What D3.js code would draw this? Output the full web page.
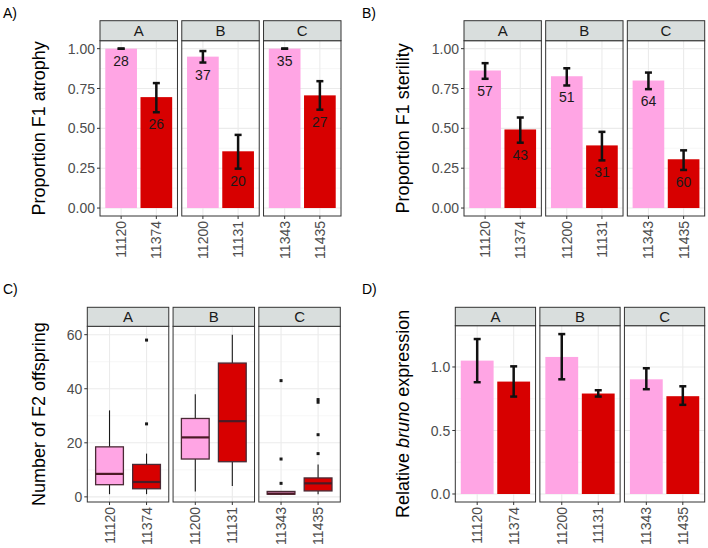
<!DOCTYPE html>
<html><head><meta charset="utf-8">
<script src="https://cdn.jsdelivr.net/npm/d3@7"></script>
<style>body{margin:0;background:#fff}svg{display:block;font-family:"Liberation Sans",Arial,Helvetica,sans-serif}</style>
</head><body><svg id="c" width="708" height="548"></svg>
<script>
// ---------- data ----------
const facets = ["A", "B", "C"];
const strains = ["11120", "11374", "11200", "11131", "11343", "11435"];
const facetOf = ["A", "A", "B", "B", "C", "C"];
const groupOf = [0, 1, 0, 1, 0, 1];

const atrophyVal = [1.00, 0.696, 0.950, 0.356, 1.00, 0.707];
const atrophyLo  = [1.00, 0.601, 0.913, 0.247, 1.00, 0.617];
const atrophyHi  = [1.00, 0.784, 0.985, 0.459, 1.00, 0.796];
const atrophyN   = [28, 26, 37, 20, 35, 27];

const sterilityVal = [0.863, 0.493, 0.827, 0.393, 0.800, 0.306];
const sterilityLo  = [0.811, 0.410, 0.769, 0.299, 0.746, 0.239];
const sterilityHi  = [0.909, 0.568, 0.877, 0.478, 0.850, 0.362];
const sterilityN   = [57, 43, 51, 31, 64, 60];

// boxplot stats: [lowerWhisker, Q1, median, Q3, upperWhisker]
const offspringStats = [
  [1, 4.5, 8.5, 18.5, 32],
  [1, 3, 5.5, 12, 16],
  [2, 14, 22, 29, 38],
  [4, 13, 28, 49.5, 60],
  [0.8, 1, 1.2, 2, 2.2],
  [1, 2.2, 5, 7, 12]
];
const offspringOutliers = [[], [27, 58], [], [], [5, 14, 43], [16, 23, 35, 36]];

const exprVal = [1.050, 0.885, 1.079, 0.791, 0.903, 0.770];
const exprLo  = [0.880, 0.767, 0.903, 0.767, 0.825, 0.702];
const exprHi  = [1.220, 1.005, 1.259, 0.817, 0.990, 0.848];

const propTicks = [0, 0.25, 0.5, 0.75, 1.0];
const propMinor = [0.125, 0.375, 0.625, 0.875];
const countTicks = [0, 20, 40, 60];
const countMinor = [10, 30, 50];
const exprTicks = [0, 0.5, 1.0];
const exprMinor = [0.25, 0.75, 1.25];

const colors = ["#ffa5e4", "#d70000"];

// ---------- drawing ----------
const svg = d3.select("#c");

function panel(o) {
  const g = svg.append("g");
  const gap = 4.3;
  const fw = (o.right - o.left - 2 * gap) / 3;
  const y = d3.scaleLinear().domain(o.yDomain).range([o.bottom, o.stripBottom]);

  g.append("text").attr("x", o.tagX).attr("y", o.tagY).attr("font-size", 14)
    .attr("fill", "#000").text(o.tag);

  const midY = (o.stripBottom + o.bottom) / 2;
  const t = g.append("text").attr("transform", `translate(${o.titleX},${midY}) rotate(-90)`)
    .attr("text-anchor", "middle").attr("dy", "0.35em").attr("font-size", 18).attr("fill", "#000");
  o.title.forEach(p => t.append("tspan").attr("font-style", p.italic ? "italic" : null).text(p.text));

  facets.forEach((f, fi) => {
    const x0 = o.left + fi * (fw + gap);
    const idx = strains.map((s, i) => i).filter(i => facetOf[i] === f);
    const x = d3.scalePoint().domain(idx.map(i => strains[i])).range([x0, x0 + fw]).padding(0.6);
    const step = x.step();
    const fg = g.append("g");

    fg.append("rect").attr("x", x0).attr("y", o.stripBottom).attr("width", fw)
      .attr("height", o.bottom - o.stripBottom).attr("fill", "#fff");
    o.yMinor.forEach(v => fg.append("line").attr("x1", x0).attr("x2", x0 + fw)
      .attr("y1", y(v)).attr("y2", y(v)).attr("stroke", "#f2f2f2").attr("stroke-width", 0.6));
    o.yTicks.forEach(v => fg.append("line").attr("x1", x0).attr("x2", x0 + fw)
      .attr("y1", y(v)).attr("y2", y(v)).attr("stroke", "#ebebeb").attr("stroke-width", 1.1));
    idx.forEach(i => fg.append("line").attr("x1", x(strains[i])).attr("x2", x(strains[i]))
      .attr("y1", o.stripBottom).attr("y2", o.bottom).attr("stroke", "#ebebeb").attr("stroke-width", 1.1));

    o.draw(fg, idx, x, y, step);

    fg.append("rect").attr("x", x0).attr("y", o.stripBottom).attr("width", fw)
      .attr("height", o.bottom - o.stripBottom).attr("fill", "none").attr("stroke", "#333").attr("stroke-width", 1);
    fg.append("rect").attr("x", x0).attr("y", o.stripTop).attr("width", fw)
      .attr("height", o.stripBottom - o.stripTop).attr("fill", "#d9dedd").attr("stroke", "#333").attr("stroke-width", 1);
    fg.append("text").attr("x", x0 + fw / 2).attr("y", (o.stripTop + o.stripBottom) / 2)
      .attr("dy", "0.36em").attr("text-anchor", "middle").attr("font-size", 15).attr("fill", "#1a1a1a").text(f);

    idx.forEach(i => {
      const cx = x(strains[i]);
      fg.append("line").attr("x1", cx).attr("x2", cx).attr("y1", o.bottom).attr("y2", o.bottom + 3)
        .attr("stroke", "#333").attr("stroke-width", 1);
      fg.append("text").attr("transform", `translate(${cx},${o.bottom + 5}) rotate(-90)`)
        .attr("text-anchor", "end").attr("dy", "0.36em").attr("font-size", 14).attr("fill", "#4d4d4d")
        .text(strains[i]);
    });

    if (fi === 0) {
      o.yTicks.forEach(v => {
        fg.append("line").attr("x1", x0 - 3).attr("x2", x0).attr("y1", y(v)).attr("y2", y(v))
          .attr("stroke", "#333").attr("stroke-width", 1);
        fg.append("text").attr("x", x0 - 5).attr("y", y(v)).attr("dy", "0.36em")
          .attr("text-anchor", "end").attr("font-size", 14).attr("fill", "#4d4d4d").text(o.fmt(v));
      });
    }
  });
}

function barDraw(val, lo, hi, n) {
  return (fg, idx, x, y, step) => {
    const bw = 0.9 * step;
    idx.forEach(i => {
      const cx = x(strains[i]);
      fg.append("rect").attr("x", cx - bw / 2).attr("y", y(val[i])).attr("width", bw)
        .attr("height", y(0) - y(val[i])).attr("fill", colors[groupOf[i]]);
    });
    idx.forEach(i => {
      const cx = x(strains[i]);
      const cw = 3.5;
      fg.append("line").attr("x1", cx).attr("x2", cx).attr("y1", y(lo[i])).attr("y2", y(hi[i]))
        .attr("stroke", "#111").attr("stroke-width", 2.5);
      [lo[i], hi[i]].forEach(v => fg.append("line").attr("x1", cx - cw).attr("x2", cx + cw)
        .attr("y1", y(v)).attr("y2", y(v)).attr("stroke", "#111").attr("stroke-width", 2.5));
      if (n) {
        fg.append("text").attr("x", cx).attr("y", y(lo[i] - 0.075)).attr("dy", "0.36em")
          .attr("text-anchor", "middle").attr("font-size", 14).attr("fill", "#1a1a1a").text(n[i]);
      }
    });
  };
}

function boxDraw(stats, outliers) {
  return (fg, idx, x, y, step) => {
    const bw = 0.75 * step;
    idx.forEach(i => {
      const cx = x(strains[i]);
      const [w0, q1, md, q3, w1] = stats[i];
      fg.append("line").attr("x1", cx).attr("x2", cx).attr("y1", y(w0)).attr("y2", y(q1))
        .attr("stroke", "#1a1a1a").attr("stroke-width", 1.1);
      fg.append("line").attr("x1", cx).attr("x2", cx).attr("y1", y(q3)).attr("y2", y(w1))
        .attr("stroke", "#1a1a1a").attr("stroke-width", 1.1);
      fg.append("rect").attr("x", cx - bw / 2).attr("y", y(q3)).attr("width", bw)
        .attr("height", y(q1) - y(q3)).attr("fill", colors[groupOf[i]])
        .attr("stroke", "#4a2a35").attr("stroke-width", 1.3);
      fg.append("line").attr("x1", cx - bw / 2).attr("x2", cx + bw / 2).attr("y1", y(md)).attr("y2", y(md))
        .attr("stroke", "#4a1a25").attr("stroke-width", 2.2);
      outliers[i].forEach(v => fg.append("rect").attr("x", cx - 1.5).attr("y", y(v) - 1.5)
        .attr("width", 3).attr("height", 3).attr("fill", "#1a1a1a"));
    });
  };
}

const f2 = d3.format(".2f"), f1 = d3.format(".1f"), f0 = d3.format("d");

panel({ left: 100, right: 341, stripTop: 20.7, stripBottom: 40.7, bottom: 216,
  yDomain: [-0.05, 1.05], yTicks: propTicks, yMinor: propMinor, fmt: f2,
  title: [{ text: "Proportion F1 atrophy" }], titleX: 39, tag: "A)", tagX: 3, tagY: 18,
  draw: barDraw(atrophyVal, atrophyLo, atrophyHi, atrophyN) });

panel({ left: 464, right: 704.7, stripTop: 20.7, stripBottom: 40.7, bottom: 216,
  yDomain: [-0.05, 1.05], yTicks: propTicks, yMinor: propMinor, fmt: f2,
  title: [{ text: "Proportion F1 sterility" }], titleX: 403, tag: "B)", tagX: 362, tagY: 18,
  draw: barDraw(sterilityVal, sterilityLo, sterilityHi, sterilityN) });

panel({ left: 87.3, right: 340.3, stripTop: 307.3, stripBottom: 326.3, bottom: 502,
  yDomain: [-1.9, 63.1], yTicks: countTicks, yMinor: countMinor, fmt: f0,
  title: [{ text: "Number of F2 offspring" }], titleX: 39, tag: "C)", tagX: 3, tagY: 294,
  draw: boxDraw(offspringStats, offspringOutliers) });

panel({ left: 455.3, right: 704.7, stripTop: 307.3, stripBottom: 325.7, bottom: 502,
  yDomain: [-0.063, 1.325], yTicks: exprTicks, yMinor: exprMinor, fmt: f1,
  title: [{ text: "Relative " }, { text: "bruno", italic: true }, { text: " expression" }], titleX: 403,
  tag: "D)", tagX: 362, tagY: 294,
  draw: barDraw(exprVal, exprLo, exprHi, null) });
</script></body></html>
